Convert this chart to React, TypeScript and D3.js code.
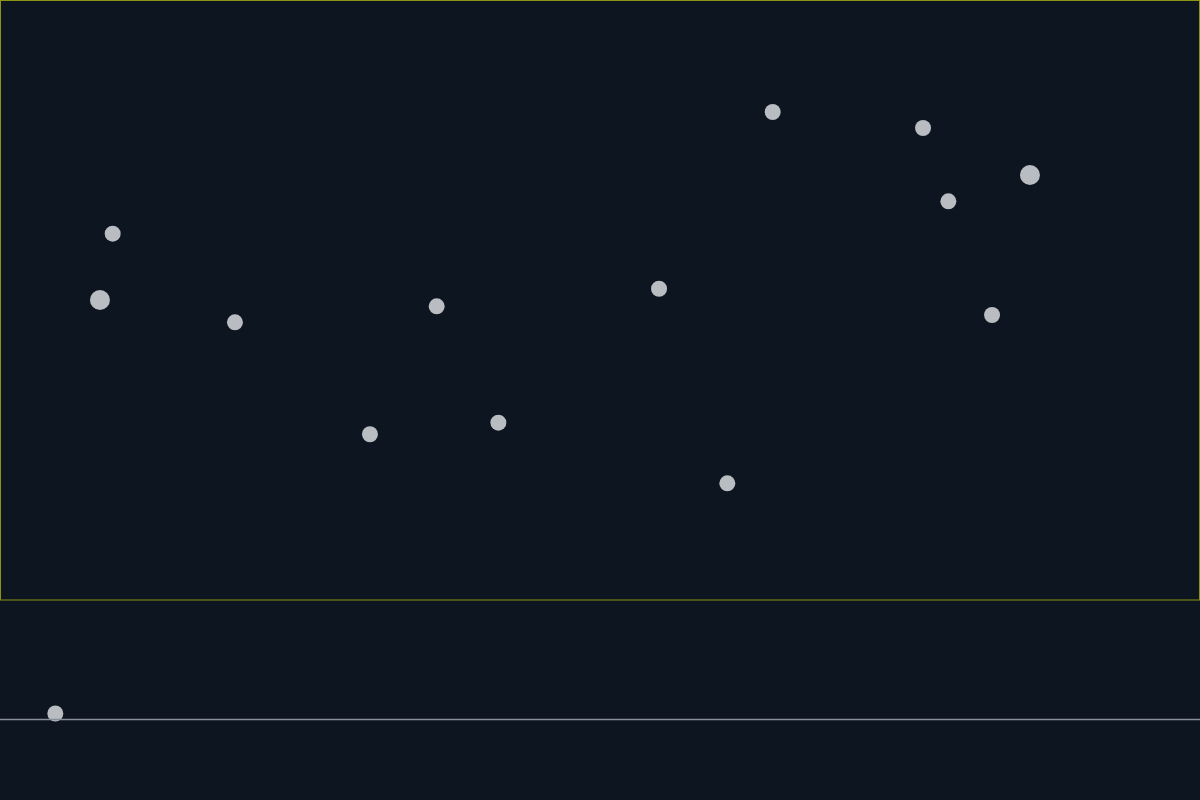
import React, { useEffect, useRef } from "react";
import * as d3 from "d3";

const W = 1200;
const H = 800;

// main panel points (data units: x 0..100, y 0..100)
const pointX = [9.39, 8.33, 19.58, 30.83, 36.39, 41.53, 54.92, 60.61, 64.39, 76.92, 79.03, 85.83, 82.67];
const pointY = [61.05, 50.0, 46.28, 27.62, 48.95, 29.55, 51.88, 19.45, 81.33, 78.67, 66.45, 70.83, 47.5];
const pointSize = [1, 2, 1, 1, 1, 1, 1, 1, 1, 1, 1, 2, 1];

// bottom strip points
const stripX = [4.61];
const stripY = [0.05];

const BG = "#0c1520";
const BORDER = "#8c9412";
const DOT = "#b9bdc2";
const BASELINE = "#8a9099";

export default function App() {
  const ref = useRef<SVGSVGElement | null>(null);

  useEffect(() => {
    document.body.style.margin = "0";
    document.body.style.background = BG;
    const svg = d3.select(ref.current);
    svg.selectAll("*").remove();

    const x = d3.scaleLinear().domain([0, 100]).range([0, W]);
    const y = d3.scaleLinear().domain([0, 100]).range([600, 0]);
    const r = d3.scaleOrdinal<number, number>().domain([1, 2]).range([8, 10]);
    const yStrip = d3.scaleLinear().domain([0, 1]).range([719.5, 600]);

    svg.append("rect").attr("x", 0).attr("y", 0).attr("width", W).attr("height", H).attr("fill", BG);

    svg
      .append("rect")
      .attr("x", 0.5)
      .attr("y", 0.5)
      .attr("width", W - 1)
      .attr("height", 599.5)
      .attr("fill", "none")
      .attr("stroke", BORDER)
      .attr("stroke-width", 1);

    const pts = pointX.map((v, i) => ({ x: v, y: pointY[i], s: pointSize[i] }));
    svg
      .append("g")
      .selectAll("circle")
      .data(pts)
      .join("circle")
      .attr("cx", (d) => x(d.x))
      .attr("cy", (d) => y(d.y))
      .attr("r", (d) => r(d.s))
      .attr("fill", DOT);

    const spts = stripX.map((v, i) => ({ x: v, y: stripY[i] }));
    svg
      .append("g")
      .selectAll("circle")
      .data(spts)
      .join("circle")
      .attr("cx", (d) => x(d.x))
      .attr("cy", (d) => yStrip(d.y))
      .attr("r", 8)
      .attr("fill", DOT);

    svg
      .append("line")
      .attr("x1", 0)
      .attr("x2", W)
      .attr("y1", yStrip(0))
      .attr("y2", yStrip(0))
      .attr("stroke", BASELINE)
      .attr("stroke-width", 1.5);
  }, []);

  return (
    <svg
      ref={ref}
      width={W}
      height={H}
      style={{ position: "absolute", top: 0, left: 0, display: "block" }}
    />
  );
}
